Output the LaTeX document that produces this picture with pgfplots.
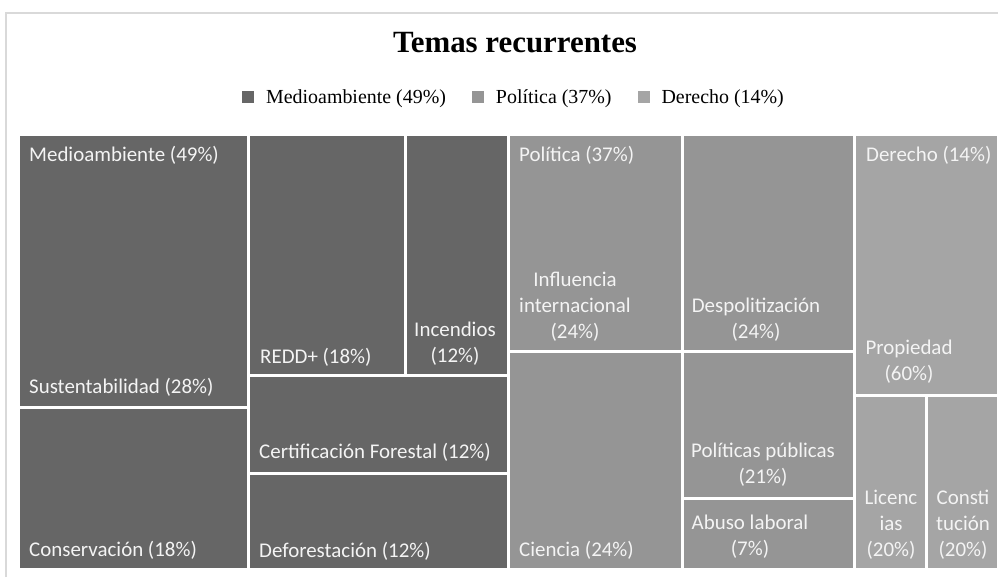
\documentclass[border=0pt]{standalone}
\usepackage{pgfplots}
\pgfplotsset{compat=1.18}
\usepackage{fontspec}
\setmainfont{Liberation Serif}
\newfontfamily\lab{Carlito}
\definecolor{cMed}{HTML}{666666}
\definecolor{cPol}{HTML}{959595}
\definecolor{cDer}{HTML}{A5A5A5}
\definecolor{cFrame}{HTML}{D9D9D9}
\definecolor{cTxt}{HTML}{F4F4F4}
\tikzset{lab/.style={text=cTxt, font=\lab\fontsize{21}{26}\selectfont, inner sep=0pt}}
\begin{document}
\begin{tikzpicture}
\begin{axis}[
  width=998bp, height=577bp, scale only axis,
  xmin=0, xmax=998, ymin=0, ymax=577, y dir=reverse,
  hide axis, clip=true,
  legend columns=3,
  legend image code/.code={\fill[#1, draw=none] (0bp,-5.5bp) rectangle (12bp,6.5bp);},
  legend style={at={(axis cs:514,97)}, anchor=center, draw=none, fill=none,
    font=\fontsize{20}{24}\selectfont, inner sep=0pt,
    /tikz/every odd column/.append style={column sep=10bp},
    /tikz/every even column/.append style={column sep=24bp}},
]
% background
\addplot[fill=white, draw=none, forget plot] coordinates {(0,0) (998,0) (998,577) (0,577)} -- cycle;
\addplot[draw=cFrame, line width=1.5bp, forget plot] coordinates {(6,577) (6,13) (998,13)};
% legend entries
\addlegendimage{fill=cMed, draw=none}
\addlegendentry{Medioambiente (49\%)}
\addlegendimage{fill=cPol, draw=none}
\addlegendentry{Política (37\%)}
\addlegendimage{fill=cDer, draw=none}
\addlegendentry{Derecho (14\%)}
% Medioambiente
\addplot[fill=cMed, draw=none, forget plot] coordinates {(20,136) (247,136) (247,406) (20,406)} -- cycle;
\addplot[fill=cMed, draw=none, forget plot] coordinates {(20,409) (247,409) (247,568) (20,568)} -- cycle;
\addplot[fill=cMed, draw=none, forget plot] coordinates {(250,136) (404,136) (404,374) (250,374)} -- cycle;
\addplot[fill=cMed, draw=none, forget plot] coordinates {(407,136) (507,136) (507,374) (407,374)} -- cycle;
\addplot[fill=cMed, draw=none, forget plot] coordinates {(250,377) (507,377) (507,472) (250,472)} -- cycle;
\addplot[fill=cMed, draw=none, forget plot] coordinates {(250,475) (507,475) (507,568) (250,568)} -- cycle;
% Politica
\addplot[fill=cPol, draw=none, forget plot] coordinates {(510,136) (681,136) (681,350) (510,350)} -- cycle;
\addplot[fill=cPol, draw=none, forget plot] coordinates {(510,353) (681,353) (681,568) (510,568)} -- cycle;
\addplot[fill=cPol, draw=none, forget plot] coordinates {(684,136) (853,136) (853,350) (684,350)} -- cycle;
\addplot[fill=cPol, draw=none, forget plot] coordinates {(684,353) (853,353) (853,497) (684,497)} -- cycle;
\addplot[fill=cPol, draw=none, forget plot] coordinates {(684,500) (853,500) (853,568) (684,568)} -- cycle;
% Derecho
\addplot[fill=cDer, draw=none, forget plot] coordinates {(856,136) (997,136) (997,394) (856,394)} -- cycle;
\addplot[fill=cDer, draw=none, forget plot] coordinates {(856,397) (925,397) (925,568) (856,568)} -- cycle;
\addplot[fill=cDer, draw=none, forget plot] coordinates {(928,397) (997,397) (997,568) (928,568)} -- cycle;
% title
\node[anchor=base, font=\bfseries\fontsize{31}{34}\selectfont] at (axis cs:515,52) {Temas recurrentes};
% labels
\node[lab, anchor=west] at (axis cs:29,155) {Medioambiente (49\%)};
\node[lab, anchor=west] at (axis cs:29,387) {Sustentabilidad (28\%)};
\node[lab, anchor=west] at (axis cs:29,550) {Conservación (18\%)};
\node[lab, anchor=west] at (axis cs:260,357) {REDD+ (18\%)};
\node[lab, align=center] at (axis cs:455,344) {Incendios\\(12\%)};
\node[lab, anchor=west] at (axis cs:259,452) {Certificación Forestal (12\%)};
\node[lab, anchor=west] at (axis cs:259,551) {Deforestación (12\%)};
\node[lab, anchor=west] at (axis cs:519,155) {Política (37\%)};
\node[lab, align=center] at (axis cs:575,307) {Influencia\\internacional\\(24\%)};
\node[lab, anchor=west] at (axis cs:519,550) {Ciencia (24\%)};
\node[lab, align=center] at (axis cs:756,320) {Despolitización\\(24\%)};
\node[lab, align=center] at (axis cs:763,465) {Políticas públicas\\(21\%)};
\node[lab, align=center] at (axis cs:750,537) {Abuso laboral\\(7\%)};
\node[lab, anchor=west] at (axis cs:866,155) {Derecho (14\%)};
\node[lab, align=center] at (axis cs:909,362) {Propiedad\\(60\%)};
\node[lab, align=center] at (axis cs:891,525) {Licenc\\ias\\(20\%)};
\node[lab, align=center] at (axis cs:963,525) {Consti\\tución\\(20\%)};
\end{axis}
\end{tikzpicture}
\end{document}
